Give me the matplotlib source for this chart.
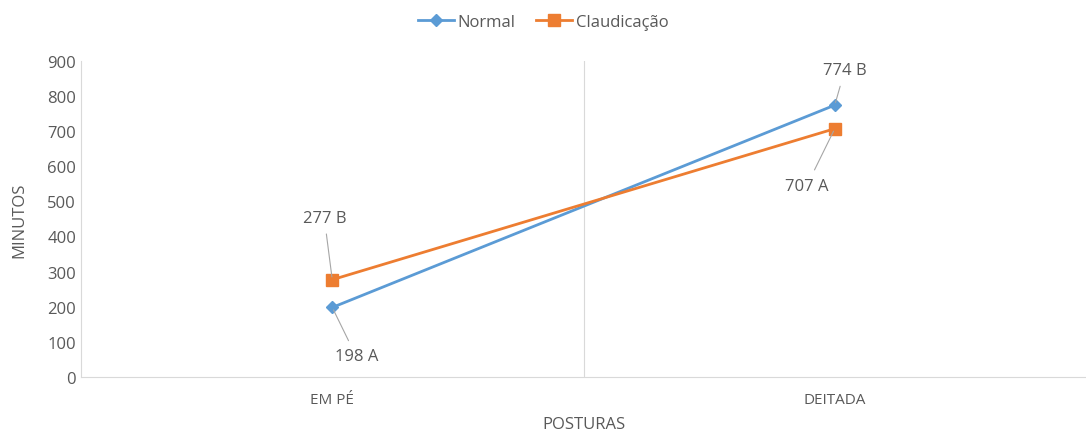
import matplotlib.pyplot as plt

plt.rcParams['font.family'] = ['Open Sans', 'DejaVu Sans']

posturas = ['EM PÉ', 'DEITADA']
normal = [198, 774]
claudicacao = [277, 707]
rot_normal = ['198 A', '774 B']
rot_claud = ['277 B', '707 A']

cinza = '#595959'
fig = plt.figure(figsize=(10.86, 4.39), dpi=100)
ax = fig.add_axes([0.0746, 0.139, 0.9254, 0.720])

x = list(range(len(posturas)))
ax.plot(x, normal, color='#5B9BD5', lw=2, marker='D', ms=6, label='Normal', zorder=3)
ax.plot(x, claudicacao, color='#ED7D31', lw=2, marker='s', ms=8, label='Claudicação', zorder=3)

# rótulos com linhas de chamada (deslocamento em pixels)
desl_normal = [(24, -49), (10, 35)]
desl_claud = [(-8, 62), (-28, -57)]
for i in x:
    for val, txt, d in [(normal[i], rot_normal[i], desl_normal[i]),
                        (claudicacao[i], rot_claud[i], desl_claud[i])]:
        ax.annotate(txt, (i, val), xytext=d, textcoords='offset pixels',
                    ha='center', va='center', fontsize=12, color=cinza,
                    arrowprops=dict(arrowstyle='-', color='#A6A6A6', lw=0.8,
                                    shrinkA=4, shrinkB=2))

ax.set_xlim(-0.5, 1.5)
ax.set_ylim(0, 900)
ax.set_yticks(range(0, 901, 100))
ax.set_xticks(x)
ax.set_xticklabels(posturas)
ax.axvline(0.5, color='#D9D9D9', lw=0.8, zorder=0)

for s in ['top', 'right']:
    ax.spines[s].set_visible(False)
for s in ['left', 'bottom']:
    ax.spines[s].set_color('#D9D9D9')
ax.tick_params(length=0, colors=cinza, labelsize=12)
ax.tick_params(axis='x', pad=11, labelsize=11)
ax.set_ylabel('MINUTOS', color=cinza, fontsize=12, labelpad=14)
ax.set_xlabel('POSTURAS', color=cinza, fontsize=12, labelpad=6)

fig.legend(loc='upper center', bbox_to_anchor=(0.5, 1.0), ncol=2, frameon=False,
           fontsize=12, labelcolor=cinza, handlelength=2.2, columnspacing=1.2,
           handletextpad=0.2)

fig.savefig('out.png', dpi=100)
